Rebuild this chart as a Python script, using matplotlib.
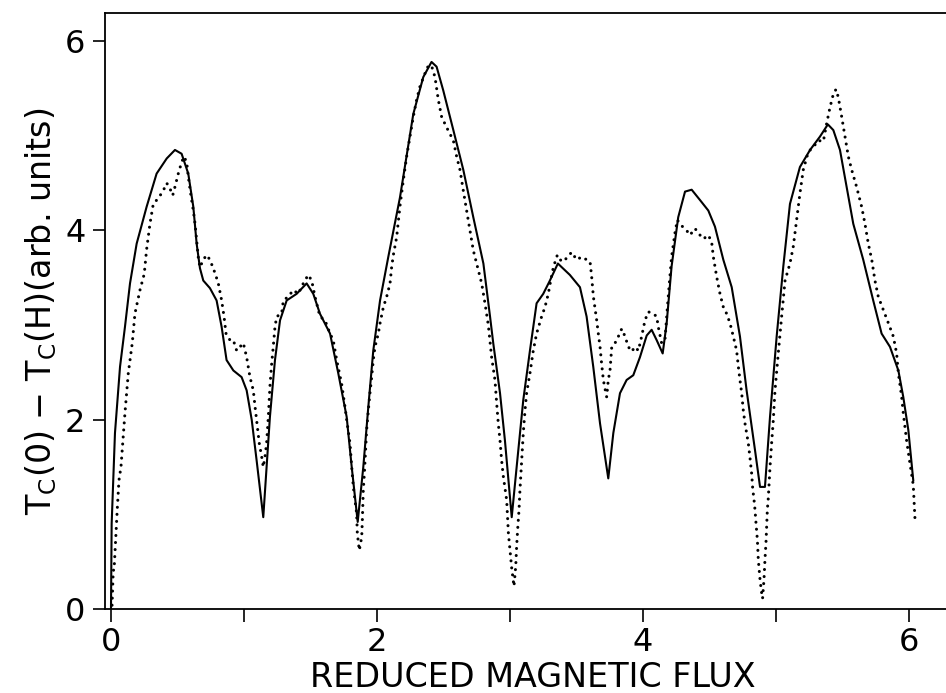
import matplotlib
matplotlib.use("Agg")
import matplotlib.pyplot as plt
import numpy as np

# theory curve (solid)
x_theory = [0.0, 0.005, 0.03, 0.068, 0.105, 0.143, 0.193, 0.268, 0.343, 0.419, 0.481, 0.531,
            0.581, 0.619, 0.644, 0.669, 0.694, 0.744, 0.794, 0.832, 0.869, 0.920, 0.982, 1.02,
            1.058, 1.095, 1.145, 1.17, 1.195, 1.233, 1.271, 1.321, 1.396, 1.471, 1.521, 1.571,
            1.647, 1.709, 1.772, 1.81, 1.855, 1.897, 1.935, 1.972, 2.023, 2.085, 2.173, 2.273,
            2.348, 2.41, 2.448, 2.498, 2.574, 2.649, 2.724, 2.8, 2.85, 2.874, 2.925, 2.962,
            3.013, 3.05, 3.10, 3.15, 3.2, 3.25, 3.30, 3.36, 3.45, 3.526, 3.576, 3.626, 3.677,
            3.739, 3.777, 3.827, 3.877, 3.927, 3.977, 4.028, 4.065, 4.103, 4.148, 4.178, 4.215,
            4.265, 4.316, 4.366, 4.429, 4.491, 4.541, 4.604, 4.667, 4.729, 4.779, 4.842, 4.88,
            4.917, 4.955, 5.005, 5.055, 5.105, 5.18, 5.256, 5.33, 5.39, 5.431, 5.481, 5.531,
            5.581, 5.656, 5.731, 5.794, 5.857, 5.92, 5.957, 5.995, 6.032]
y_theory = [0.0, 0.9, 1.86, 2.56, 2.98, 3.44, 3.86, 4.25, 4.60, 4.76, 4.85, 4.81,
            4.60, 4.25, 3.86, 3.60, 3.47, 3.39, 3.26, 2.98, 2.63, 2.52, 2.45, 2.31,
            2.00, 1.57, 0.97, 1.50, 2.03, 2.63, 3.05, 3.26, 3.33, 3.44, 3.33, 3.12,
            2.91, 2.49, 2.03, 1.50, 0.92, 1.50, 2.14, 2.73, 3.26, 3.72, 4.35, 5.23,
            5.62, 5.78, 5.73, 5.48, 5.06, 4.64, 4.14, 3.65, 3.09, 2.81, 2.28, 1.78,
            0.97, 1.50, 2.21, 2.73, 3.23, 3.33, 3.47, 3.65, 3.53, 3.40, 3.09, 2.56, 1.96,
            1.38, 1.86, 2.28, 2.42, 2.47, 2.66, 2.89, 2.95, 2.84, 2.70, 3.02, 3.62,
            4.14, 4.41, 4.43, 4.32, 4.21, 4.04, 3.69, 3.40, 2.88, 2.31, 1.68, 1.29,
            1.29, 2.03, 2.88, 3.62, 4.28, 4.67, 4.85, 4.99, 5.12, 5.06, 4.85, 4.46,
            4.07, 3.69, 3.26, 2.91, 2.77, 2.52, 2.24, 1.89, 1.36]

# measurement (dotted)
x_meas = [0.008, 0.017, 0.023, 0.03, 0.038, 0.047, 0.06, 0.075, 0.09, 0.105, 0.13, 0.16,
          0.18, 0.218, 0.25, 0.268, 0.293, 0.318, 0.356, 0.393, 0.419, 0.444, 0.464, 0.481,
          0.506, 0.531, 0.549, 0.569, 0.581, 0.599, 0.619, 0.632, 0.644, 0.656, 0.669, 0.694,
          0.719, 0.744, 0.782, 0.807, 0.832, 0.85, 0.865, 0.895, 0.92, 0.945, 0.97, 0.995,
          1.02, 1.045, 1.07, 1.083, 1.1, 1.115, 1.133, 1.145, 1.158, 1.17, 1.183, 1.195,
          1.208, 1.22, 1.233, 1.246, 1.283, 1.296, 1.333, 1.371, 1.408, 1.446, 1.483, 1.509,
          1.534, 1.571, 1.609, 1.647, 1.671, 1.697, 1.734, 1.759, 1.772, 1.797, 1.81, 1.822,
          1.847, 1.852, 1.867, 1.885, 1.89, 1.897, 1.905, 1.915, 1.922, 1.935, 1.947, 1.96,
          1.972, 1.985, 2.01, 2.023, 2.048, 2.073, 2.098, 2.11, 2.123, 2.148, 2.173, 2.198,
          2.223, 2.248, 2.273, 2.298, 2.323, 2.361, 2.386, 2.41, 2.436, 2.461, 2.486, 2.523,
          2.574, 2.599, 2.624, 2.649, 2.674, 2.699, 2.724, 2.762, 2.787, 2.812, 2.837, 2.862,
          2.887, 2.90, 2.912, 2.925, 2.937, 2.95, 2.975, 2.988, 3.0, 3.013, 3.025, 3.03,
          3.043, 3.05, 3.058, 3.068, 3.075, 3.088, 3.10, 3.113, 3.125, 3.15, 3.175, 3.20,
          3.238, 3.263, 3.288, 3.306, 3.326, 3.356, 3.388, 3.414, 3.464, 3.501, 3.539, 3.576,
          3.602, 3.614, 3.627, 3.652, 3.664, 3.677, 3.689, 3.702, 3.714, 3.727, 3.739, 3.752,
          3.765, 3.79, 3.815, 3.84, 3.865, 3.89, 3.915, 3.94, 3.965, 3.99, 4.015, 4.04,
          4.077, 4.103, 4.115, 4.14, 4.165, 4.182, 4.198, 4.215, 4.24, 4.258, 4.29, 4.328,
          4.353, 4.391, 4.429, 4.454, 4.491, 4.516, 4.529, 4.554, 4.579, 4.604, 4.629, 4.654,
          4.679, 4.704, 4.717, 4.729, 4.742, 4.754, 4.767, 4.779, 4.792, 4.805, 4.817, 4.825,
          4.835, 4.842, 4.85, 4.86, 4.867, 4.88, 4.892, 4.899, 4.91, 4.917, 4.925, 4.93,
          4.935, 4.942, 4.955, 4.967, 4.98, 4.992, 5.017, 5.043, 5.068, 5.105, 5.13, 5.155,
          5.18, 5.205, 5.243, 5.28, 5.318, 5.356, 5.381, 5.406, 5.431, 5.451, 5.468, 5.494,
          5.519, 5.544, 5.569, 5.606, 5.644, 5.669, 5.694, 5.72, 5.744, 5.769, 5.807, 5.845,
          5.882, 5.907, 5.92, 5.945, 5.957, 5.982, 6.007, 6.032, 6.038, 6.045]
y_meas = [0.04, 0.41, 0.41, 0.6, 0.80, 1.05, 1.36, 1.50, 1.78, 2.07, 2.49, 2.81,
          3.12, 3.37, 3.54, 3.80, 4.07, 4.28, 4.34, 4.42, 4.50, 4.44, 4.37, 4.46,
          4.60, 4.72, 4.78, 4.72, 4.57, 4.39, 4.21, 4.07, 3.90, 3.72, 3.61, 3.69,
          3.74, 3.69, 3.55, 3.44, 3.26, 3.09, 2.91, 2.84, 2.84, 2.73, 2.77, 2.81,
          2.66, 2.45, 2.31, 2.14, 1.93, 1.75, 1.61, 1.50, 1.61, 1.75, 2.03, 2.35,
          2.59, 2.77, 2.98, 3.09, 3.12, 3.26, 3.30, 3.37, 3.33, 3.44, 3.53, 3.47,
          3.30, 3.09, 3.05, 2.91, 2.84, 2.63, 2.38, 2.14, 2.0, 1.75, 1.50, 1.29,
          1.01, 0.80, 0.62, 0.76, 0.94, 1.26, 1.43, 1.71, 1.89, 2.10, 2.28, 2.45,
          2.63, 2.77, 2.91, 3.02, 3.19, 3.30, 3.44, 3.61, 3.74, 3.93, 4.26, 4.53,
          4.78, 4.99, 5.20, 5.38, 5.52, 5.66, 5.74, 5.74, 5.62, 5.38, 5.20, 5.09,
          4.95, 4.78, 4.64, 4.42, 4.21, 4.00, 3.79, 3.58, 3.44, 3.23, 3.0, 2.66,
          2.42, 2.17, 1.96, 1.78, 1.57, 1.40, 1.15, 0.80, 0.62, 0.43, 0.29, 0.24,
          0.45, 0.66, 0.85, 1.05, 1.26, 1.57, 1.86, 2.10, 2.28, 2.49, 2.73, 2.91,
          3.09, 3.19, 3.33, 3.47, 3.61, 3.74, 3.67, 3.69, 3.77, 3.69, 3.72, 3.69,
          3.67, 3.51, 3.30, 3.05, 2.91, 2.77, 2.59, 2.42, 2.33, 2.24, 2.42, 2.52,
          2.77, 2.81, 2.88, 2.96, 2.88, 2.77, 2.72, 2.77, 2.73, 2.88, 3.05, 3.14,
          3.12, 3.09, 2.98, 2.81, 2.84, 3.16, 3.44, 3.72, 3.97, 4.11, 4.05, 4.00,
          3.95, 4.02, 3.95, 3.91, 3.95, 3.88, 3.72, 3.51, 3.33, 3.19, 3.12, 3.02,
          2.88, 2.73, 2.56, 2.42, 2.28, 2.10, 1.96, 1.86, 1.75, 1.59, 1.43, 1.27,
          1.15, 1.05, 0.90, 0.73, 0.52, 0.31, 0.17, 0.11, 0.32, 0.52, 0.71, 0.89,
          1.05, 1.17, 1.50, 1.75, 2.0, 2.30, 2.70, 3.10, 3.47, 3.65, 3.83, 4.11,
          4.39, 4.64, 4.83, 4.88, 4.95, 4.94, 5.13, 5.30, 5.44, 5.49, 5.41, 5.20,
          4.99, 4.78, 4.64, 4.46, 4.25, 4.07, 3.86, 3.69, 3.47, 3.30, 3.16, 3.02,
          2.88, 2.70, 2.49, 2.24, 2.07, 1.78, 1.54, 1.31, 1.15, 0.95]

x_major = [0, 2, 4, 6]
x_minor = [1, 3, 5]
y_major = [0, 2, 4, 6]

plt.rcParams['font.family'] = ['DejaVu Sans']
plt.rcParams['mathtext.default'] = 'regular'

fig = plt.figure(figsize=(9.46, 6.93), dpi=100)
ax = fig.add_axes([105/946, 84/693, 855/946, 596/693])

ax.plot(x_theory, y_theory, color='black', lw=1.5, solid_joinstyle='round')
ax.plot(x_meas, y_meas, color='black', lw=2.2, linestyle=(0, (0.01, 2.3)),
        dash_capstyle='round')

ax.set_xlim(-0.045, (960 - 111) / 133)
ax.set_ylim(0, 6.297)

ax.set_xticks(x_major)
ax.set_xticks(x_minor, minor=True)
ax.set_yticks(y_major)
ax.tick_params(which='both', direction='out', length=9, width=1.2, labelsize=23, pad=4)
ax.tick_params(axis='y', pad=5)
for s in ax.spines.values():
    s.set_linewidth(1.3)

ax.set_xlabel('REDUCED MAGNETIC FLUX', fontsize=24, labelpad=2)
ax.set_ylabel(r'T$_C$(0) $-$ T$_C$(H)(arb. units)', fontsize=24, labelpad=4)

fig.savefig('out.png', dpi=100)
